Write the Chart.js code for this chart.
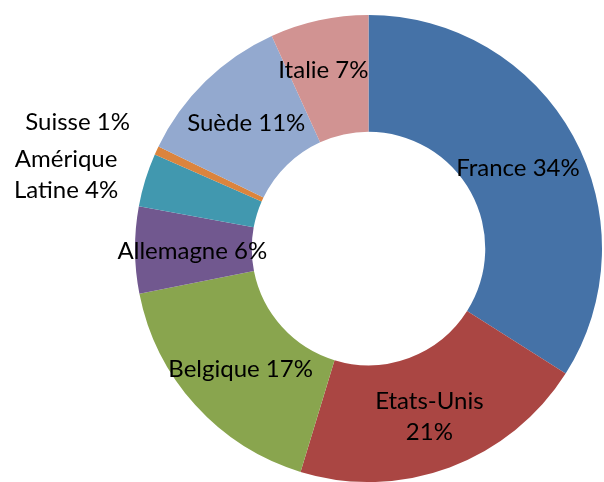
<!DOCTYPE html>
<html>
<head>
<meta charset="utf-8">
<script src="https://cdn.jsdelivr.net/npm/chart.js@4"></script>
<style>
  body { margin: 0; background: #fff; }
</style>
</head>
<body>
<canvas id="pays" width="604" height="482"></canvas>
<script>
// Categories and shares (%)
const categories = [
  "France",
  "Etats-Unis",
  "Belgique",
  "Allemagne",
  "Amérique Latine",
  "Suisse",
  "Suède",
  "Italie",
];
const shares = [34.0, 20.7, 17.2, 6.0, 3.7, 0.6, 11.0, 6.8];

// How each label is broken into lines (the % goes on the last line)
const labelLines = [
  ["France"],
  ["Etats-Unis", ""],
  ["Belgique"],
  ["Allemagne"],
  ["Amérique", "Latine"],
  ["Suisse"],
  ["Suède"],
  ["Italie"],
];

const colors = [
  "#4572A7",
  "#AA4643",
  "#89A54E",
  "#71588F",
  "#4198AF",
  "#DB843D",
  "#93A9CF",
  "#D19392",
];

// nudge from slice centre, px
const labelNudge = [
  [-4, 4],
  [0, 4],
  [2, 3],
  [-1, 2],
  [-135, -22],
  [-132, -53],
  [0, 0],
  [-8, -7],
];

const total = shares.reduce((a, b) => a + b, 0);

const sliceLabels = {
  id: "sliceLabels",
  afterDatasetsDraw(chart) {
    const ctx = chart.ctx;
    const meta = chart.getDatasetMeta(0);
    ctx.save();
    ctx.font = "24px Lato";
    ctx.fillStyle = "#000";
    ctx.textAlign = "center";
    ctx.textBaseline = "middle";
    const lineH = 31.5;
    meta.data.forEach((arc, i) => {
      const p = arc.getProps(["x", "y", "startAngle", "endAngle", "innerRadius", "outerRadius"], true);
      const mid = (p.startAngle + p.endAngle) / 2;
      const r = (p.innerRadius + p.outerRadius) / 2;
      const x = p.x + r * Math.cos(mid) + labelNudge[i][0];
      const y = p.y + r * Math.sin(mid) + labelNudge[i][1];
      const pct = Math.round((shares[i] / total) * 100) + "%";
      const lines = labelLines[i].slice();
      const last = lines.length - 1;
      lines[last] = (lines[last] ? lines[last] + " " : "") + pct;
      const y0 = y - (last * lineH) / 2;
      lines.forEach((t, k) => ctx.fillText(t, x, y0 + k * lineH));
    });
    ctx.restore();
  },
};

new Chart(document.getElementById("pays").getContext("2d"), {
  type: "doughnut",
  data: {
    labels: categories,
    datasets: [
      {
        data: shares,
        backgroundColor: colors,
        borderWidth: 0,
      },
    ],
  },
  options: {
    responsive: false,
    animation: false,
    cutout: "50%",
    layout: {
      padding: { left: 133, right: -1, top: 15, bottom: -5 },
    },
    plugins: {
      legend: { display: false },
      tooltip: { enabled: false },
    },
  },
  plugins: [sliceLabels],
});
</script>
</body>
</html>
